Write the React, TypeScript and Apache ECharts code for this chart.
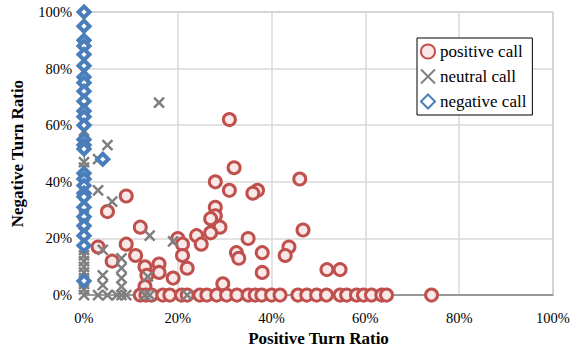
import React, { useEffect, useRef } from "react";
import * as echarts from "echarts";

// positive call (x %, y %)
const positiveX = [31, 32, 46, 28, 37, 36, 31, 9, 5, 28, 28, 27, 29, 27, 24, 25, 12, 9, 3, 6, 11, 13, 13.4, 13, 16, 16, 19, 20, 21, 21, 22, 35, 32.5, 33, 38, 38, 43.7, 42.9, 46.7, 51.8, 54.6, 29.6,
  12, 13.2, 14.4, 16.8, 18.3, 20.8, 22, 24.7, 26.2, 28.3, 30.4, 32.6, 35, 36.5, 37.9, 40, 41.8, 45.6, 47.5, 49.6, 51.7, 54.6, 56, 58.1, 59.6, 61.3, 63.5, 64.5, 74.1];
const positiveY = [62, 45, 41, 40, 37, 36, 37, 35, 29.5, 31, 28, 27, 24, 22, 21, 18, 24, 18, 17, 12, 14, 10, 7, 3, 11, 8, 6, 20, 18, 14, 9.5, 20, 15, 13, 15, 8, 17, 14, 23, 9, 9, 4,
  0, 0, 0, 0, 0, 0, 0, 0, 0, 0, 0, 0, 0, 0, 0, 0, 0, 0, 0, 0, 0, 0, 0, 0, 0, 0, 0, 0, 0];

// neutral call (x %, y %)
const neutralX = [16, 5, 3, 3, 6, 14, 19, 4, 8, 8, 4, 8, 4, 8, 13.6, 3, 5, 7, 8, 9, 13, 14, 22,
  0, 0, 0, 0, 0, 0, 0, 0, 0, 0, 0, 0, 0, 0, 0, 0, 0, 0];
const neutralY = [68, 53, 48, 37, 33, 21, 19, 16, 13, 9.5, 7, 6, 3.5, 3, 6.5, 0, 0, 0, 0, 0, 0, 0, 0,
  0, 2, 4, 6, 8, 10, 12, 14, 16, 19, 22, 25, 28, 33, 40, 45, 47, 58];

// negative call (x %, y %)
const negativeX = [0, 0, 0, 0, 0, 0, 0, 0, 0, 0, 0, 0, 0, 0, 0, 0, 0, 0, 0, 0, 0, 0, 0, 0, 0, 0, 0, 4];
const negativeY = [100, 95, 90, 88, 85, 81, 77, 75, 72, 68.5, 65, 63, 60, 55, 53, 51.6, 43, 41, 38.7, 36, 34.7, 31, 27.7, 24.5, 21, 17.5, 5, 48];

const xTicks = [0, 20, 40, 60, 80, 100];

const FONT = "Times New Roman";

function pairs(xs: number[], ys: number[]) {
  return xs.map((x, i) => [x, ys[i]]);
}

export default function App() {
  const ref = useRef<HTMLDivElement>(null);
  useEffect(() => {
    if (!ref.current) return;
    const chart = echarts.init(ref.current, undefined, { renderer: "svg" });
    chart.setOption({
      animation: false,
      backgroundColor: "#fff",
      textStyle: { fontFamily: FONT },
      grid: {
        left: 84,
        top: 12,
        right: 31,
        bottom: 55,
        show: true,
        borderColor: "#8c8c8c",
        borderWidth: 1,
      },
      legend: {
        orient: "vertical",
        left: 417,
        top: 38,
        padding: [5, 6, 5, 3],
        itemGap: 8,
        itemWidth: 14,
        itemHeight: 14,
        borderColor: "#000",
        borderWidth: 1,
        backgroundColor: "#fff",
        textStyle: { fontFamily: FONT, fontSize: 17, color: "#000" },
        data: ["positive call", "neutral call", "negative call"],
      },
      xAxis: {
        type: "value",
        min: 0,
        max: 100,
        interval: 20,
        name: "Positive Turn Ratio",
        nameLocation: "middle",
        nameGap: 34,
        nameTextStyle: { fontFamily: FONT, fontSize: 17, fontWeight: "bold", color: "#000" },
        axisLine: { show: true, lineStyle: { color: "#868686", width: 1.5 } },
        axisTick: { show: false },
        axisLabel: {
          fontFamily: FONT,
          fontSize: 14.5,
          color: "#000",
          margin: 15,
          formatter: (v: number) => (xTicks.includes(v) ? v + "%" : ""),
        },
        splitLine: { show: true, lineStyle: { color: "#d9d9d9", width: 1.5 } },
      },
      yAxis: {
        type: "value",
        min: 0,
        max: 100,
        interval: 20,
        name: "Negative Turn Ratio",
        nameLocation: "middle",
        nameGap: 58,
        nameTextStyle: { fontFamily: FONT, fontSize: 17, fontWeight: "bold", color: "#000" },
        axisLine: { show: true, lineStyle: { color: "#868686", width: 1 } },
        axisTick: { show: false },
        axisLabel: { fontFamily: FONT, fontSize: 14.5, color: "#000", margin: 12, formatter: "{value}%" },
        splitLine: { show: true, lineStyle: { color: "#d9d9d9", width: 1.5 } },
      },
      series: [
        {
          name: "positive call",
          type: "scatter",
          symbol: "circle",
          symbolSize: 12,
          data: pairs(positiveX, positiveY),
          itemStyle: { color: "#f8e8e8", borderColor: "#c0504d", borderWidth: 3, opacity: 1 },
        },
        {
          name: "neutral call",
          type: "scatter",
          symbol: "path://M0,0L10,10M10,0L0,10",
          symbolSize: 10,
          data: pairs(neutralX, neutralY),
          itemStyle: { color: "rgba(0,0,0,0)", borderColor: "#7f7f7f", borderWidth: 2.5, opacity: 1 },
        },
        {
          name: "negative call",
          type: "scatter",
          symbol: "diamond",
          symbolSize: 11,
          data: pairs(negativeX, negativeY),
          itemStyle: { color: "#ffffff", borderColor: "#4a7ebb", borderWidth: 4, opacity: 1 },
        },
      ],
    });
    return () => chart.dispose();
  }, []);
  return <div ref={ref} style={{ width: 584, height: 352, position: "absolute", left: 0, top: 0 }} />;
}
